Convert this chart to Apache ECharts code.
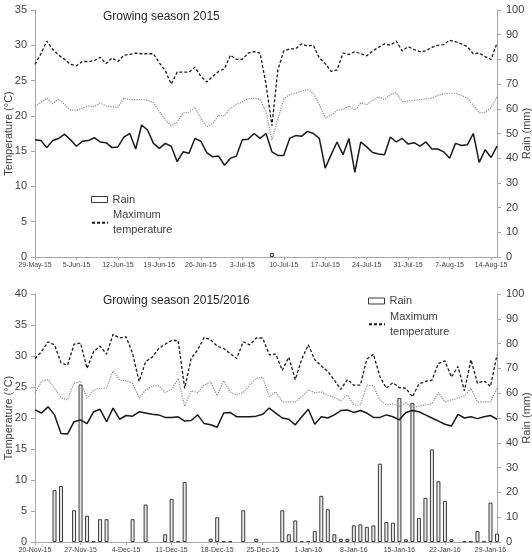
<!DOCTYPE html>
<html><head><meta charset="utf-8">
<script src="https://cdn.jsdelivr.net/npm/echarts@6/dist/echarts.min.js"></script>
<style>html,body{margin:0;padding:0;background:#fff}#c{width:532px;height:559px}</style>
</head><body><div id="c"></div>
<script>
const MONTHS=['Jan','Feb','Mar','Apr','May','Jun','Jul','Aug','Sep','Oct','Nov','Dec'];
function dayLabels(y,m,d,n){const o=[];for(let i=0;i<n;i++){const t=new Date(Date.UTC(y,m,d+i));o.push(t.getUTCDate()+'-'+MONTHS[t.getUTCMonth()]+'-'+String(t.getUTCFullYear()).slice(2));}return o;}
const days2015=dayLabels(2015,4,29,79);
const days1516=dayLabels(2015,10,20,72);

const max2015=[27.3,28.8,30.6,29.4,28.6,28.0,27.3,27.1,27.7,27.7,27.8,28.3,27.4,28.2,27.7,28.6,28.7,28.9,28.8,28.8,
28.8,27.5,26.4,24.5,26.2,26.2,26.2,26.9,25.6,24.8,
25.6,26.3,26.7,28.6,28.0,28.0,28.9,29.1,28.9,24.5,
18.6,26.5,29.2,29.5,29.5,30.2,29.9,30.0,28.2,27.4,
26.3,26.5,28.9,28.7,29.1,28.8,28.5,29.2,29.7,30.2,
30.0,30.6,29.2,29.8,29.4,29.1,29.2,29.7,30.0,30.1,
30.7,30.5,30.2,29.8,28.8,28.9,28.4,28.0,30.3];
const mean2015=[21.4,21.9,22.5,21.7,22.4,21.6,20.8,20.8,21.1,21.4,
21.3,21.8,21.4,21.3,21.2,22.5,22.3,22.3,22.3,22.2,
21.9,20.6,19.5,18.6,19.1,20.4,20.5,21.2,19.6,18.5,
18.9,20.1,20.0,21.1,21.6,22.0,22.4,22.5,22.3,20.6,
16.6,19.5,22.4,23.0,23.2,23.5,23.7,23.2,21.6,19.7,
20.1,20.8,20.9,21.4,20.8,21.8,21.6,22.2,22.7,22.3,
23.0,23.3,22.0,22.1,22.2,22.3,22.4,22.5,22.9,23.1,
23.2,23.2,22.9,22.5,21.5,20.4,20.5,21.2,22.7];
const min2015=[16.6,16.5,15.5,16.5,16.8,17.4,16.6,15.7,16.4,16.5,
16.9,16.3,16.2,15.5,15.6,17.0,17.5,15.3,18.7,18.0,
16.1,15.4,16.1,15.7,13.5,14.9,14.7,16.8,16.4,14.8,
14.2,14.3,13.0,14.0,14.3,16.6,16.7,17.5,16.8,17.5,
14.9,14.4,14.4,16.8,17.2,17.1,17.8,17.5,16.8,12.6,
14.5,16.3,14.5,16.8,12.0,16.3,15.6,14.8,14.6,14.5,
17.0,16.3,16.8,16.0,16.2,15.7,16.3,15.3,15.3,14.9,
14.0,16.1,15.8,15.9,17.5,13.4,15.2,14.1,15.7];
const rain2015=[null,null,null,null,null,null,null,null,null,null,
null,null,null,null,null,null,null,null,null,null,
null,null,null,null,null,null,null,null,null,null,
null,null,null,null,null,null,null,null,null,null,
1.6,null,null,null,null,null,null,null,null,null,
null,null,null,null,null,null,null,null,null,null,
null,null,null,null,null,null,null,null,null,null,
null,null,null,null,null,null,null,null,null];

const max1516=[29.6,30.7,32.3,31.8,28.9,28.5,31.9,32.1,28.0,30.7,
31.6,30.3,33.5,32.9,33.1,30.4,25.9,29.1,29.8,31.2,
31.9,32.5,32.5,24.8,29.6,31.0,33.0,32.6,31.6,31.2,
30.4,29.6,32.3,31.8,32.9,32.9,30.2,30.3,27.7,29.8,
26.2,29.5,31.8,29.4,28.4,27.5,26.1,24.6,26.2,25.3,
25.3,29.5,30.3,26.7,24.8,25.7,24.9,24.8,23.4,25.5,
25.9,26.1,28.8,29.2,26.6,28.3,24.4,29.4,25.6,26.0,
25.1,30.2];
const mean1516=[24.0,25.9,26.2,24.8,23.3,22.9,25.6,25.9,23.2,24.5,
24.8,24.8,27.6,26.1,26.0,25.6,23.2,24.5,25.2,25.2,
24.1,24.6,26.4,21.9,24.4,24.1,25.3,25.8,23.6,26.0,
24.2,23.7,24.1,25.3,26.4,26.6,23.4,24.2,22.6,22.6,
22.6,23.5,24.5,24.1,24.2,23.7,23.3,22.8,23.7,22.1,
22.1,25.3,25.2,22.9,22.1,22.3,21.9,22.4,21.7,21.9,
22.1,22.3,24.1,22.6,22.9,23.2,23.6,24.8,22.6,22.6,
22.6,24.8];
const min1516=[21.3,20.8,21.8,20.5,17.5,17.4,19.4,19.7,19.1,21.0,
21.4,19.4,21.6,19.8,20.4,20.3,21.0,20.8,20.6,20.5,
20.1,20.1,20.2,19.5,19.6,20.5,19.1,18.9,18.5,20.8,
20.9,20.2,20.2,20.2,20.3,20.6,21.6,20.8,20.0,19.8,
18.9,20.2,21.4,19.0,20.2,20.0,20.5,21.2,21.3,20.9,
21.2,20.8,20.1,20.1,20.5,20.2,19.7,20.9,21.2,21.0,
20.5,20.0,19.5,19.0,18.7,20.6,20.0,20.2,19.9,20.2,
20.4,19.8];
const rain1516=[null,null,null,20.9,22.6,null,12.8,63.5,10.6,0.3,
9.2,9.2,null,null,null,9.2,null,15.1,null,null,
3.1,17.4,0.3,24.2,null,null,null,1.3,10.0,0.3,
0.3,null,12.8,null,1.3,null,null,null,12.8,3.1,
8.7,0.4,0.4,4.4,18.6,13.2,3.1,1.3,1.3,6.7,
7.1,6.1,6.7,31.6,8.1,7.8,58.1,1.1,56.1,9.7,
17.8,37.3,24.5,16.6,1.1,null,0.3,0.3,4.4,0.3,
15.9,3.4];

const titles=['Growing season 2015','Growing season 2015/2016'];
const tempTicks=[{max:35},{max:40}];

const FONT='Liberation Sans';
const TXT='#404040';
const AX='#a6a6a6';
const chart=echarts.init(document.getElementById('c'),null,{renderer:'canvas'});

function xAx(g,data){return {gridIndex:g,type:'category',data:data,boundaryGap:false,
 axisLine:{lineStyle:{color:AX,width:1}},
 axisTick:{show:true,interval:6,length:3,lineStyle:{color:AX}},
 axisLabel:{interval:6,fontSize:7,color:TXT,fontFamily:FONT,margin:5},
 splitLine:{show:false}};}
function yAx(g,max,right,name,nameGap){return {gridIndex:g,type:'value',min:0,max:max,interval:right?10:5,position:right?'right':'left',
 name:name,nameLocation:'middle',nameGap:nameGap,nameRotate:90,nameMoveOverlap:false,
 nameTextStyle:{fontSize:11,color:TXT,fontFamily:FONT},
 axisLine:{show:true,lineStyle:{color:AX,width:1}},
 axisTick:{show:true,length:4,lineStyle:{color:AX}},
 axisLabel:{fontSize:11,color:TXT,fontFamily:FONT,margin:right?9:8},
 splitLine:{show:false}};}

const barStyle={color:'#e8e8e8',borderColor:'#3a3a3a',borderWidth:1};
function series(xi,yL,yR,rain,mx,mn,mi){return [
 {name:'Rain',type:'bar',xAxisIndex:xi,yAxisIndex:yR,data:rain,barWidth:4,itemStyle:barStyle},
 {name:'Maximum temperature',type:'line',xAxisIndex:xi,yAxisIndex:yL,data:mx,symbol:'none',
  itemStyle:{color:'#1a1a1a'},lineStyle:{color:'#1a1a1a',width:1.3,type:[3,2]}},
 {name:'Mean temperature',type:'line',xAxisIndex:xi,yAxisIndex:yL,data:mn,symbol:'none',
  itemStyle:{color:'#8c8c8c'},lineStyle:{color:'#8c8c8c',width:1.2,type:[1.2,1.2]}},
 {name:'Minimum temperature',type:'line',xAxisIndex:xi,yAxisIndex:yL,data:mi,symbol:'none',
  itemStyle:{color:'#1a1a1a'},lineStyle:{color:'#1a1a1a',width:1.5}}
];}

function legends(left,topRain,topMax){return [
 {left:left,top:topRain,padding:0,itemWidth:16,itemHeight:6,selectedMode:false,
  data:[{name:'Rain',icon:'rect',itemStyle:{color:'#ffffff',borderColor:'#3a3a3a',borderWidth:1}}],
  textStyle:{fontSize:11,color:TXT,fontFamily:FONT,lineHeight:14}},
 {left:left,top:topMax,padding:0,itemWidth:16,itemHeight:6,selectedMode:false,
  data:[{name:'Maximum temperature',itemStyle:{opacity:0,borderWidth:0}}],
  formatter:function(n){return n.replace(' ','\n');},
  textStyle:{fontSize:11,color:TXT,fontFamily:FONT,lineHeight:14.6,padding:[14.6,0,0,0]}}
];}

chart.setOption({
 backgroundColor:'#ffffff',
 animation:false,
 title:[
  {text:titles[0],left:103,top:11,padding:0,textStyle:{fontSize:12,fontWeight:'normal',color:'#262626',fontFamily:FONT}},
  {text:titles[1],left:103,top:295,padding:0,textStyle:{fontSize:12,fontWeight:'normal',color:'#262626',fontFamily:FONT}}
 ],
 legend:[].concat(legends(91,192.5,200.8),legends(368,294,302.4)),
 grid:[{left:35,right:35,top:10,height:247,containLabel:false,outerBoundsMode:'none'},
       {left:35,right:35,top:294,height:248,containLabel:false,outerBoundsMode:'none'}],
 xAxis:[xAx(0,days2015),xAx(1,days1516)],
 yAxis:[yAx(0,tempTicks[0].max,false,'Temperature (°C)',21),yAx(0,100,true,'Rain (mm)',24),
        yAx(1,tempTicks[1].max,false,'Temperature (°C)',21),yAx(1,100,true,'Rain (mm)',24)],
 series:[].concat(series(0,0,1,rain2015,max2015,mean2015,min2015),series(1,2,3,rain1516,max1516,mean1516,min1516))
});
</script></body></html>
